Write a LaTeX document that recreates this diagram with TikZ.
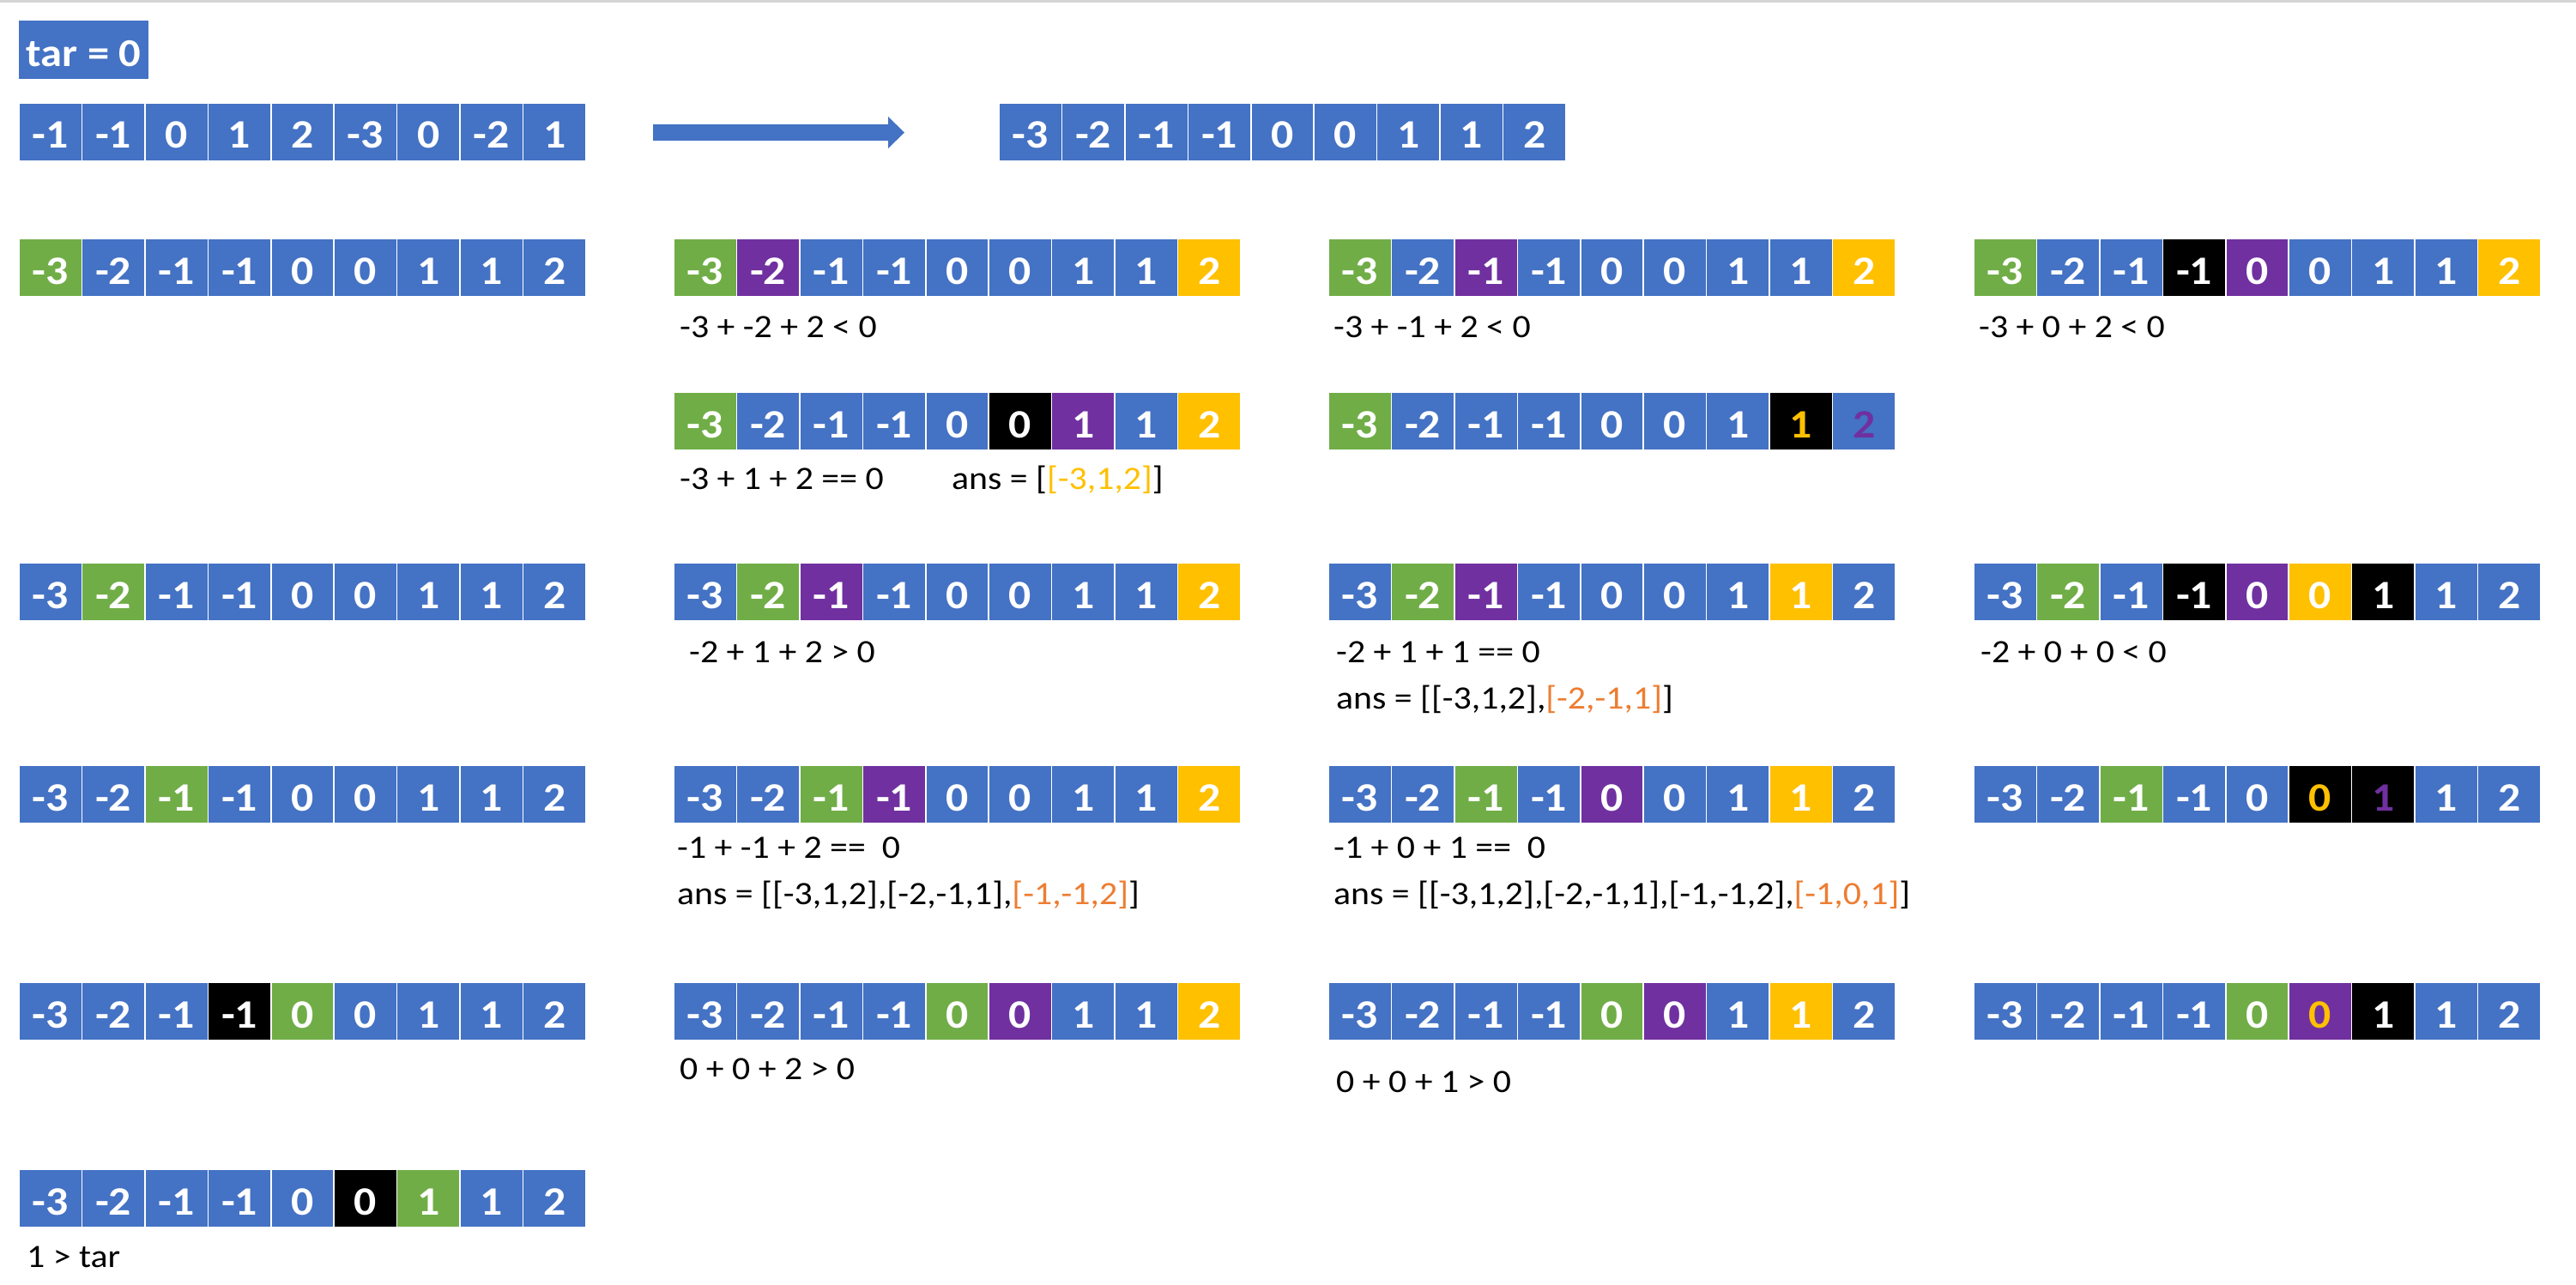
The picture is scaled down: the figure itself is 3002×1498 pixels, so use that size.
\documentclass[tikz,border=0pt]{standalone}
\usepackage{fontspec}
\setmainfont{Carlito}
\newfontfamily\carl{Carlito}[FakeStretch=1.1]
\definecolor{cB}{HTML}{4472C4}
\definecolor{cG}{HTML}{70AD47}
\definecolor{cP}{HTML}{7030A0}
\definecolor{cY}{HTML}{FFC000}
\definecolor{cK}{HTML}{000000}
\definecolor{cW}{HTML}{FFFFFF}
\definecolor{cO}{HTML}{ED7D31}
\definecolor{cL}{HTML}{D4D4D4}
\tikzset{
  cellbox/.style={draw=white, line width=1.5pt, minimum width=73.44pt, minimum height=68pt,
    inner sep=0pt, text height=38pt, text depth=0pt,
    font=\carl\bfseries\fontsize{47}{50}\selectfont},
  lbl/.style={anchor=base west, inner sep=0pt, text=black,
    font=\carl\fontsize{38}{42}\selectfont},
}
\newcommand\mkarr[4]{%
  \foreach \val/\fc/\tcol [count=\i] in {#4} {
    \node[cellbox, fill=\fc, text=\tcol] (#1-\i) at ({#2+(\i-0.5)*73.44},{#3+34}) {\val};
  }}
\begin{document}
\begin{tikzpicture}[x=1pt,y=-1pt]
\useasboundingbox (0,0) rectangle (3002,1498);
\fill[white] (0,0) rectangle (3002,1498);
\draw[cL, line width=3pt] (0,2) -- (3002,2);
% target
\node[fill=cB, text=white, minimum width=151pt, minimum height=68pt, inner sep=0pt,
  text height=38pt, text depth=0pt, anchor=north west,
  font=\carl\bfseries\fontsize{46}{50}\selectfont] (tar) at (22,24) {tar = 0};
% original and sorted
\mkarr{orig}{22}{120}{-1/cB/cW,-1/cB/cW,0/cB/cW,1/cB/cW,2/cB/cW,-3/cB/cW,0/cB/cW,-2/cB/cW,1/cB/cW}
\mkarr{sorted}{1164}{120}{-3/cB/cW,-2/cB/cW,-1/cB/cW,-1/cB/cW,0/cB/cW,0/cB/cW,1/cB/cW,1/cB/cW,2/cB/cW}
\coordinate (arA) at (761,154.5);
\coordinate (arB) at (1054,154.5);
\fill[cB] (761,145) -- (1035,145) -- (1035,136) -- (arB) -- (1035,173) -- (1035,164) -- (761,164) -- cycle;
% Row A
\mkarr{A1}{22}{278}{-3/cG/cW,-2/cB/cW,-1/cB/cW,-1/cB/cW,0/cB/cW,0/cB/cW,1/cB/cW,1/cB/cW,2/cB/cW}
\mkarr{A2}{785}{278}{-3/cG/cW,-2/cP/cW,-1/cB/cW,-1/cB/cW,0/cB/cW,0/cB/cW,1/cB/cW,1/cB/cW,2/cY/cW}
\mkarr{A3}{1548}{278}{-3/cG/cW,-2/cB/cW,-1/cP/cW,-1/cB/cW,0/cB/cW,0/cB/cW,1/cB/cW,1/cB/cW,2/cY/cW}
\mkarr{A4}{2300}{278}{-3/cG/cW,-2/cB/cW,-1/cB/cW,-1/cK/cW,0/cP/cW,0/cB/cW,1/cB/cW,1/cB/cW,2/cY/cW}
\node[lbl] (lA2) at (792,393) {-3 + -2 + 2 < 0};
\node[lbl] (lA3) at (1554,393) {-3 + -1 + 2 < 0};
\node[lbl] (lA4) at (2306,393) {-3 + 0 + 2 < 0};
% Row B
\mkarr{B2}{785}{457}{-3/cG/cW,-2/cB/cW,-1/cB/cW,-1/cB/cW,0/cB/cW,0/cK/cW,1/cP/cW,1/cB/cW,2/cY/cW}
\mkarr{B3}{1548}{457}{-3/cG/cW,-2/cB/cW,-1/cB/cW,-1/cB/cW,0/cB/cW,0/cB/cW,1/cB/cW,1/cK/cY,2/cB/cP}
\node[lbl] (lB2) at (792,570) {-3 + 1 + 2 == 0};
\node[lbl] (lB2a) at (1109,570) {ans = [\textcolor{cY}{[-3,1,2]}]};
% Row C
\mkarr{C1}{22}{656}{-3/cB/cW,-2/cG/cW,-1/cB/cW,-1/cB/cW,0/cB/cW,0/cB/cW,1/cB/cW,1/cB/cW,2/cB/cW}
\mkarr{C2}{785}{656}{-3/cB/cW,-2/cG/cW,-1/cP/cW,-1/cB/cW,0/cB/cW,0/cB/cW,1/cB/cW,1/cB/cW,2/cY/cW}
\mkarr{C3}{1548}{656}{-3/cB/cW,-2/cG/cW,-1/cP/cW,-1/cB/cW,0/cB/cW,0/cB/cW,1/cB/cW,1/cY/cW,2/cB/cW}
\mkarr{C4}{2300}{656}{-3/cB/cW,-2/cG/cW,-1/cB/cW,-1/cK/cW,0/cP/cW,0/cY/cW,1/cK/cW,1/cB/cW,2/cB/cW}
\node[lbl] (lC2) at (803,772) {-2 + 1 + 2 > 0};
\node[lbl] (lC3) at (1557,772) {-2 + 1 + 1 == 0};
\node[lbl] (lC3a) at (1557,826) {ans = [[-3,1,2],\textcolor{cO}{[-2,-1,1]}]};
\node[lbl] (lC4) at (2308,772) {-2 + 0 + 0 < 0};
% Row D
\mkarr{D1}{22}{892}{-3/cB/cW,-2/cB/cW,-1/cG/cW,-1/cB/cW,0/cB/cW,0/cB/cW,1/cB/cW,1/cB/cW,2/cB/cW}
\mkarr{D2}{785}{892}{-3/cB/cW,-2/cB/cW,-1/cG/cW,-1/cP/cW,0/cB/cW,0/cB/cW,1/cB/cW,1/cB/cW,2/cY/cW}
\mkarr{D3}{1548}{892}{-3/cB/cW,-2/cB/cW,-1/cG/cW,-1/cB/cW,0/cP/cW,0/cB/cW,1/cB/cW,1/cY/cW,2/cB/cW}
\mkarr{D4}{2300}{892}{-3/cB/cW,-2/cB/cW,-1/cG/cW,-1/cB/cW,0/cB/cW,0/cK/cY,1/cK/cP,1/cB/cW,2/cB/cW}
\node[lbl] (lD2) at (789,1000) {-1 + -1 + 2 ==\ \ 0};
\node[lbl] (lD2a) at (789,1054) {ans = [[-3,1,2],[-2,-1,1],\textcolor{cO}{[-1,-1,2]}]};
\node[lbl] (lD3) at (1554,1000) {-1 + 0 + 1 ==\ \ 0};
\node[lbl] (lD3a) at (1554,1054) {ans = [[-3,1,2],[-2,-1,1],[-1,-1,2],\textcolor{cO}{[-1,0,1]}]};
% Row E
\mkarr{E1}{22}{1145}{-3/cB/cW,-2/cB/cW,-1/cB/cW,-1/cK/cW,0/cG/cW,0/cB/cW,1/cB/cW,1/cB/cW,2/cB/cW}
\mkarr{E2}{785}{1145}{-3/cB/cW,-2/cB/cW,-1/cB/cW,-1/cB/cW,0/cG/cW,0/cP/cW,1/cB/cW,1/cB/cW,2/cY/cW}
\mkarr{E3}{1548}{1145}{-3/cB/cW,-2/cB/cW,-1/cB/cW,-1/cB/cW,0/cG/cW,0/cP/cW,1/cB/cW,1/cY/cW,2/cB/cW}
\mkarr{E4}{2300}{1145}{-3/cB/cW,-2/cB/cW,-1/cB/cW,-1/cB/cW,0/cG/cW,0/cP/cY,1/cK/cW,1/cB/cW,2/cB/cW}
\node[lbl] (lE2) at (792,1258) {0 + 0 + 2 > 0};
\node[lbl] (lE3) at (1557,1273) {0 + 0 + 1 > 0};
% Row F
\mkarr{F1}{22}{1363}{-3/cB/cW,-2/cB/cW,-1/cB/cW,-1/cB/cW,0/cB/cW,0/cK/cW,1/cG/cW,1/cB/cW,2/cB/cW}
\node[lbl] (lF1) at (31,1477) {1 > tar};
\end{tikzpicture}
\end{document}
